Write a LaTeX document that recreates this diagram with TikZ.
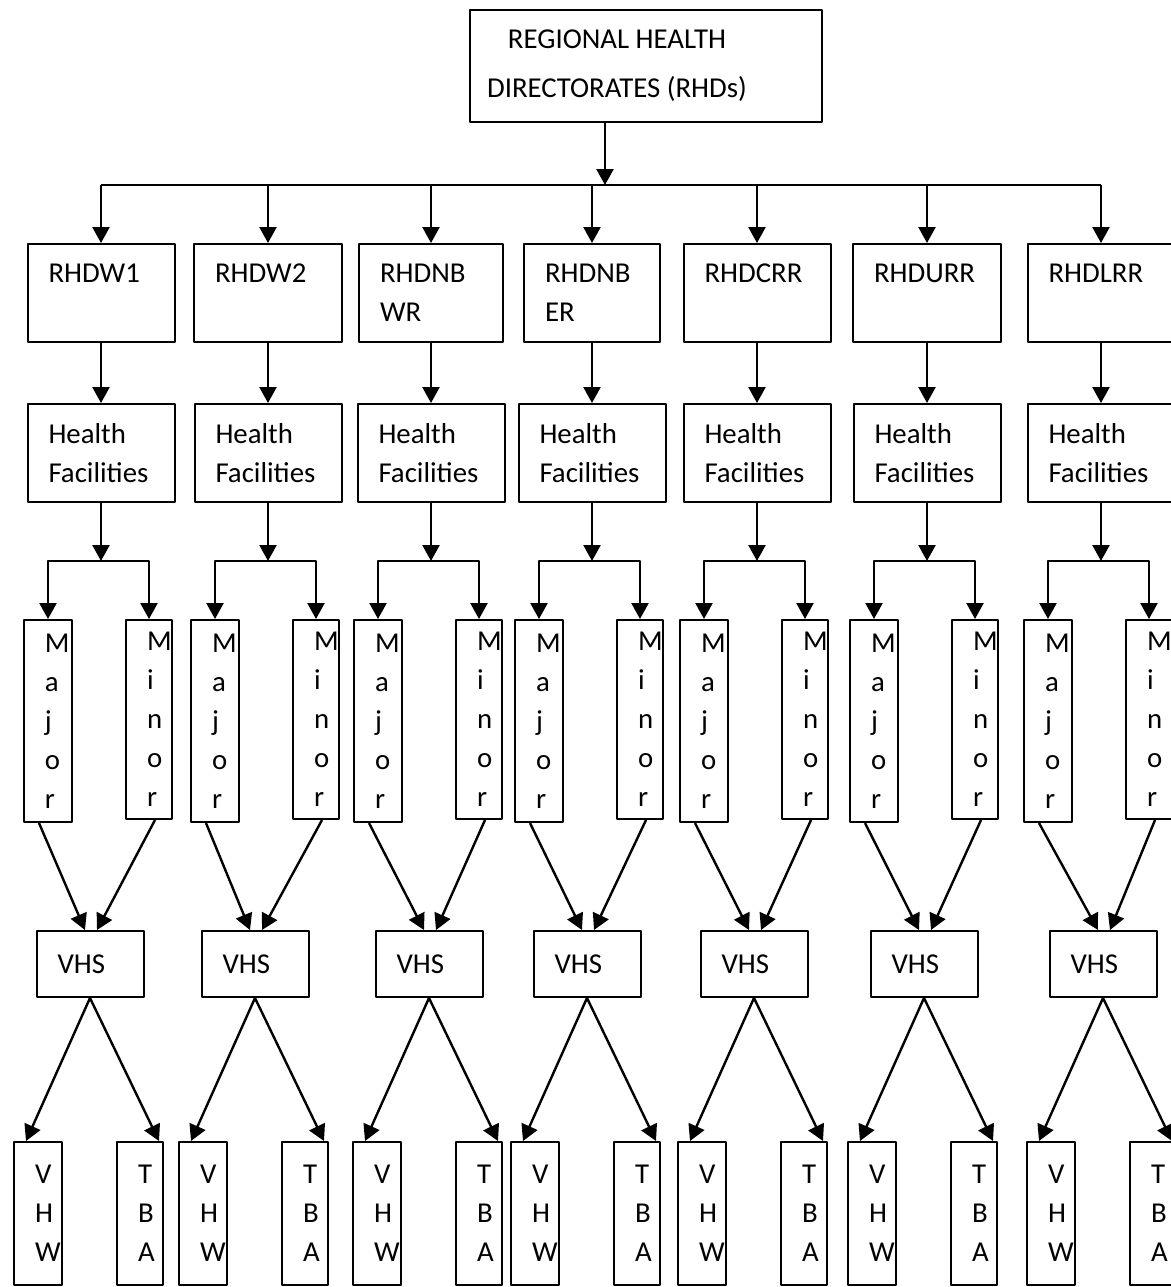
\documentclass[tikz,border=0pt]{standalone}
\usepackage{fontspec}
\setmainfont{Carlito}
\usetikzlibrary{arrows.meta,calc}
\begin{document}
\begin{tikzpicture}[x=.5pt, y=-.5pt, line width=1pt, line join=round, >={Triangle[width=8.5pt,length=8pt]},
	font=\fontsize{14.4pt}{19.5pt}\selectfont,
	box/.style 2 args={draw, align=left, inner xsep=10.5pt, inner ysep=0pt, text width=#1, minimum height=#2},
	link/.style={->, line width=1.2pt}]
	\useasboundingbox (0,0) rectangle (1171,1287);
	\def\yb{185} % main bar
	\def\yf{561} % fork to Major/Minor
	\node[draw, align=center, inner sep=0pt, minimum width=176pt, minimum height=56pt] (top) at (646,66)
		{REGIONAL HEALTH\rule{29pt}{0pt}\\[5pt]DIRECTORATES (RHDs)\rule{29pt}{0pt}};
	\coordinate (t) at (605,\yb);
	\draw[link] (top.south -| t) -- (t);
	\foreach \i/\cx/\vx/\tw/\lab in {
		1/101/90/52.5pt/{RHDW1\\\mbox{}},
		2/268/255/53pt/{RHDW2\\\mbox{}},
		3/431/429/51pt/{RHDNB\\WR},
		4/592/587/47pt/{RHDNB\\ER},
		5/757/754/52.5pt/{RHDCRR\\\mbox{}},
		6/927/924/53pt/{RHDURR\\\mbox{}},
		7/1101/1103/52.5pt/{RHDLRR\\\mbox{}}}{
		\coordinate (b\i) at (\cx,\yb);
		\coordinate (f\i) at (\cx,\yf);
		\node[box={\tw}{49pt}] (R\i) at (\cx,293) {\lab};
		\node[box={52.5pt}{49pt}] (H\i) at (\cx,453) {Health\\Facilities};
		\node[box={3pt}{101pt}] (Ma\i) at (\cx-53,721) {M\\a\\j\\o\\r};
		\node[box={2pt}{99.5pt}] (Mi\i) at (\cx+48,719.5) {M\\i\\n\\o\\r};
		\node[box={32.5pt}{33pt}] (V\i) at (\vx,964) {VHS};
		\node[box={3pt}{71.5pt}] (W\i) at (\vx-52,1213.5) {V\\H\\W};
		\node[box={2pt}{71.5pt}] (T\i) at (\vx+50,1213.5) {T\\B\\A};
		\draw[link] (b\i) -- (R\i);
		\draw[link] (R\i) -- (H\i);
		\draw[link] (H\i) -- (f\i);
		\draw[link] (f\i) -| (Ma\i);
		\draw[link] (f\i) -| (Mi\i);
		\draw[link] ($(Ma\i.south)+(-9,0)$) -- ($(V\i.north)+(-5,0)$);
		\draw[link] ($(Mi\i.south)+(6,0)$) -- ($(V\i.north)+(7,0)$);
		\draw[link] (V\i.south) -- ($(W\i.north west)+(13,0)$);
		\draw[link] (V\i.south) -- ($(T\i.north east)+(-5,0)$);
	}
	\draw (b1) -- (b7);
\end{tikzpicture}
\end{document}
